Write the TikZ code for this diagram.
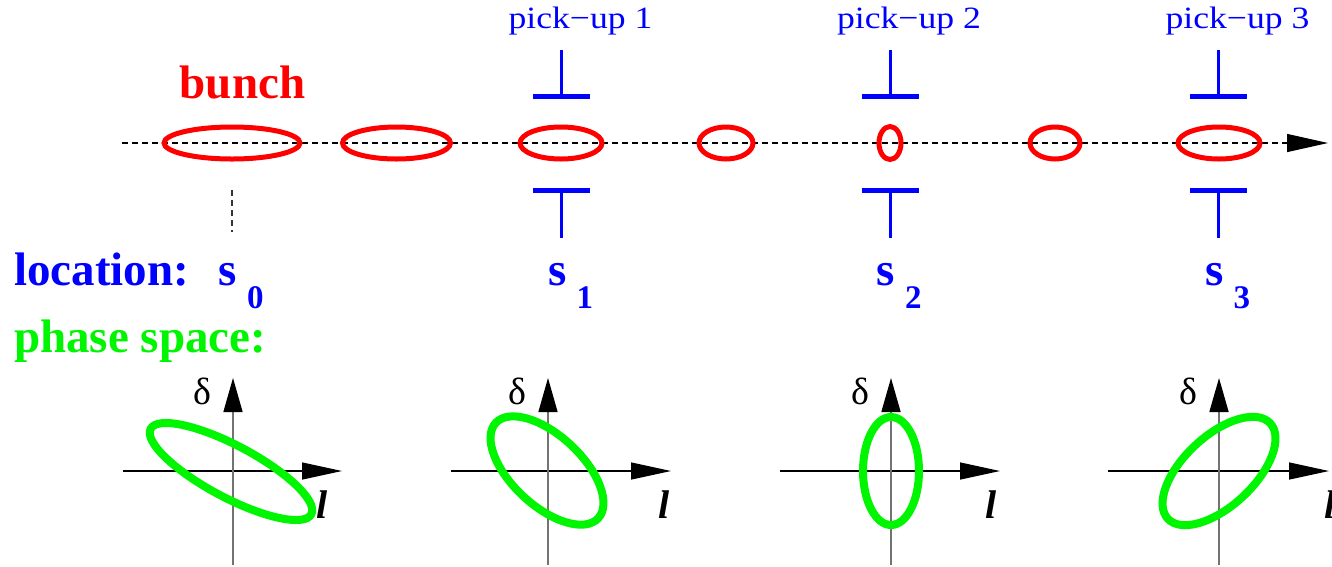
\documentclass[tikz,border=0pt]{standalone}
\usepackage{fontspec}
\setmainfont{Liberation Serif}
\usetikzlibrary{arrows.meta}
\definecolor{pblue}{RGB}{0,0,255}
\definecolor{pred}{RGB}{255,0,0}
\definecolor{pgreen}{RGB}{0,245,0}
\begin{document}
\begin{tikzpicture}[x=1pt,y=-1pt,
  bunchell/.style={draw=pred,line width=5pt},
  phaseell/.style={draw=pgreen,line width=8pt},
  pickbar/.style={draw=pblue,line width=5pt},
  pickstem/.style={draw=pblue,line width=3pt},
  beamaxis/.style={draw=black,line width=1.2pt,dash pattern=on 6pt off 4pt,-{Triangle[length=41pt,width=18pt]}},
  sguide/.style={draw=black!80,line width=1.2pt,dash pattern=on 6pt off 4pt},
  haxis/.style={draw=black,line width=1.3pt,-{Triangle[length=40pt,width=17pt]}},
  vaxis/.style={draw=black!55,line width=1.5pt,-{Triangle[length=34pt,width=19pt,black]}},
  bigbold/.style={font=\fontsize{47}{52}\selectfont\bfseries,inner sep=0pt},
  subbold/.style={font=\fontsize{33}{36}\selectfont\bfseries,inner sep=0pt,text=pblue,anchor=base west},
  slabel/.style={bigbold,text=pblue,anchor=base},
  picklabel/.style={font=\fontsize{31}{34}\selectfont,text=pblue,inner sep=0pt,anchor=base},
  deltalabel/.style={font=\fontsize{38}{40}\selectfont,inner sep=0pt},
  ellabel/.style={font=\fontsize{40}{44}\selectfont\bfseries\itshape,inner sep=0pt}
]
\useasboundingbox (0,0) rectangle (1332,566);

% beam axis
\coordinate (axL) at (122,143);
\coordinate (axR) at (1328,143);
\draw[beamaxis] (axL) -- (axR);

% bunches
\coordinate (b1) at (232,143);
\coordinate (b2) at (396.5,143);
\coordinate (b3) at (561,143);
\coordinate (b4) at (726,143);
\coordinate (b5) at (890,143);
\coordinate (b6) at (1055,143);
\coordinate (b7) at (1219,143);
\draw[bunchell] (b1) ellipse [x radius=68pt,y radius=16pt];
\draw[bunchell] (b2) ellipse [x radius=54pt,y radius=16pt];
\draw[bunchell] (b3) ellipse [x radius=41pt,y radius=16pt];
\draw[bunchell] (b4) ellipse [x radius=27pt,y radius=16pt];
\draw[bunchell] (b5) ellipse [x radius=11pt,y radius=16.5pt];
\draw[bunchell] (b6) ellipse [x radius=25pt,y radius=16pt];
\draw[bunchell] (b7) ellipse [x radius=41pt,y radius=16pt];

\node[bigbold,text=pred,anchor=base] (bunch) at (242.5,98) {bunch};

% s0 guide
\coordinate (g0a) at (232,190);
\coordinate (g0b) at (232,232);
\draw[sguide] (g0a) -- (g0b);

% pick-ups
\foreach \x/\n in {561.5/1,890/2,1218.5/3}{
  \coordinate (pt\n) at (\x,50);
  \coordinate (pu\n) at (\x,96.5);
  \coordinate (pd\n) at (\x,190);
  \coordinate (pb\n) at (\x,238);
  \draw[pickstem] (pt\n) -- (pu\n);
  \draw[pickbar] ([xshift=-28.5pt]pu\n) -- ([xshift=28.5pt]pu\n);
  \draw[pickstem] (pd\n) -- (pb\n);
  \draw[pickbar] ([xshift=-28.5pt]pd\n) -- ([xshift=28.5pt]pd\n);
  \node[picklabel] (pl\n) at (\x+19,28) {\scalebox{1.15}[1]{pick−up \n}};
}

% location labels
\node[bigbold,text=pblue,anchor=base west] (loc) at (14,285) {location:};
\foreach \x/\n in {232/0,561.5/1,890/2,1218.5/3}{
  \node[slabel] (s\n) at (\x-4,285) {s};
  \node[subbold] (sub\n) at (\x+15,308) {\n};
}

\node[bigbold,text=pgreen,anchor=base west] (phs) at (14,352) {phase space:};

% phase space diagrams
\foreach \ox/\xl/\xr/\lx/\n in {233/123/342/322/1,548/451/671/664/2,891/780/1000/991/3,1219/1108/1329/1330/4}{
  \coordinate (hl\n) at (\xl,471);
  \coordinate (hr\n) at (\xr,471);
  \coordinate (vb\n) at (\ox,565);
  \coordinate (vt\n) at (\ox,378);
  \draw[haxis] (hl\n) -- (hr\n);
  \draw[vaxis] (vb\n) -- (vt\n);
  \node[deltalabel] (d\n) at (\ox-31,391) {δ};
  \node[ellabel] (l\n) at (\lx,505) {l};
}

\coordinate (e1) at (231,471.5);
\coordinate (e2) at (547,470.5);
\coordinate (e3) at (891,471);
\coordinate (e4) at (1219,471);
\draw[phaseell,rotate around={-28:(e1)}] (e1) ellipse [x radius=91pt,y radius=26pt];
\draw[phaseell,rotate around={-43:(e2)}] (e2) ellipse [x radius=70pt,y radius=35pt];
\draw[phaseell] (e3) ellipse [x radius=28pt,y radius=54pt];
\draw[phaseell,rotate around={43:(e4)}] (e4) ellipse [x radius=70pt,y radius=35pt];
\end{tikzpicture}
\end{document}
